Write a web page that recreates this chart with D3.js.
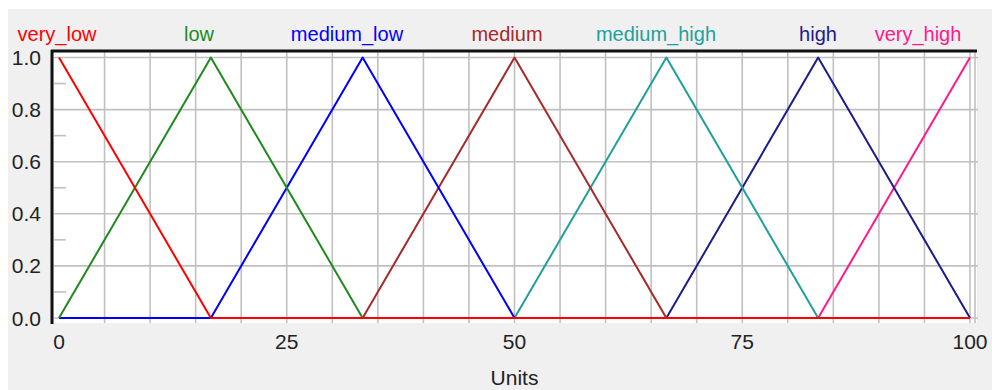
<!DOCTYPE html>
<html lang="en">
<head>
    <meta charset="UTF-8">
    <title>Units</title>
    <script src="https://d3js.org/d3.v7.min.js"></script>
    <style>
        body {
            margin: 0;
            background: #ffffff;
            font-family: "Liberation Sans", Arial, sans-serif;
        }
        svg { display: block; }
        .grid line { stroke: #c0c0c0; stroke-width: 1.6; }
        .lbl { fill: #222; font-size: 21px; }
    </style>
</head>
<body>
    <svg width="992" height="390"></svg>
    <script>
        // term names, drawn as labels on top
        const terms = ["very_low", "low", "medium_low", "medium", "medium_high", "high", "very_high"];
        const colors = ["#ff0000", "#1f8a1f", "#0000ff", "#a52a2a", "#1fa09c", "#1c1c8c", "#ff1a8c"];

        // membership function points [x, mu] per term
        const veryLow    = [[0, 1], [16.67, 0], [100, 0]];
        const low        = [[0, 0], [16.67, 1], [33.33, 0], [100, 0]];
        const mediumLow  = [[0, 0], [16.67, 0], [33.33, 1], [50, 0], [100, 0]];
        const medium     = [[0, 0], [33.33, 0], [50, 1], [66.67, 0], [100, 0]];
        const mediumHigh = [[0, 0], [50, 0], [66.67, 1], [83.33, 0], [100, 0]];
        const high       = [[0, 0], [66.67, 0], [83.33, 1], [100, 0]];
        const veryHigh   = [[0, 0], [83.33, 0], [100, 1]];

        const series = [veryLow, low, mediumLow, medium, mediumHigh, high, veryHigh];

        const xTickLabels = [0, 25, 50, 75, 100];
        const yTickLabels = [0.0, 0.2, 0.4, 0.6, 0.8, 1.0];

        // label centres over the plot (layout only)
        const labelCenters = [57, 199, 347, 507, 656, 818, 918];

        const svg = d3.select("svg");

        // grey window panel
        svg.append("rect")
            .attr("x", 8).attr("y", 9)
            .attr("width", 984).attr("height", 381)
            .attr("fill", "#f0f0f0");

        const x = d3.scaleLinear().domain([0, 100]).range([59, 970]);
        const y = d3.scaleLinear().domain([0, 1]).range([318, 57.5]);

        const plotL = 54, plotR = 977, plotT = 52, plotB = 323;

        svg.append("rect")
            .attr("x", plotL).attr("y", plotT)
            .attr("width", plotR - plotL).attr("height", plotB - plotT)
            .attr("fill", "#ffffff");

        const grid = svg.append("g").attr("class", "grid");

        // vertical grid every 5 units
        grid.selectAll(".v")
            .data(d3.range(5, 101, 5))
            .enter().append("line")
            .attr("x1", d => x(d)).attr("x2", d => x(d))
            .attr("y1", plotT).attr("y2", plotB);

        // extra line at the right edge
        grid.append("line")
            .attr("x1", 975).attr("x2", 975)
            .attr("y1", plotT).attr("y2", plotB);

        // horizontal grid every 0.2
        grid.selectAll(".h")
            .data(d3.range(0, 1.01, 0.2))
            .enter().append("line")
            .attr("x1", plotL).attr("x2", plotR + 1)
            .attr("y1", d => y(d)).attr("y2", d => y(d));

        // minor ticks at 0.1 steps
        grid.selectAll(".m")
            .data(d3.range(0.1, 1, 0.2))
            .enter().append("line")
            .attr("x1", plotL).attr("x2", 66)
            .attr("y1", d => y(d)).attr("y2", d => y(d));

        // frame: thick black top and left
        svg.append("line")
            .attr("x1", 51).attr("x2", plotR)
            .attr("y1", 51).attr("y2", 51)
            .attr("stroke", "#111").attr("stroke-width", 3);
        svg.append("line")
            .attr("x1", 52).attr("x2", 52)
            .attr("y1", 50).attr("y2", 324)
            .attr("stroke", "#111").attr("stroke-width", 3);

        // membership lines, drawn in reverse so very_low ends on top
        const line = d3.line()
            .x(d => x(d[0]))
            .y(d => y(d[1]));

        const order = d3.range(series.length).reverse();
        svg.append("g")
            .selectAll("path")
            .data(order)
            .enter().append("path")
            .attr("d", i => line(series[i]))
            .attr("fill", "none")
            .attr("stroke", i => colors[i])
            .attr("stroke-width", 2)
            .attr("stroke-linejoin", "round");

        // y axis labels
        svg.selectAll(".ylab")
            .data(yTickLabels)
            .enter().append("text")
            .attr("class", "lbl")
            .attr("x", 41)
            .attr("y", d => y(d))
            .attr("dy", "0.36em")
            .attr("text-anchor", "end")
            .text(d => d.toFixed(1));

        // x axis labels
        svg.selectAll(".xlab")
            .data(xTickLabels)
            .enter().append("text")
            .attr("class", "lbl")
            .attr("x", d => x(d))
            .attr("y", 349)
            .attr("text-anchor", "middle")
            .text(d => d);

        svg.append("text")
            .attr("class", "lbl")
            .attr("x", x(50))
            .attr("y", 385)
            .attr("text-anchor", "middle")
            .text("Units");

        // term names
        svg.selectAll(".term")
            .data(terms)
            .enter().append("text")
            .attr("x", (d, i) => labelCenters[i])
            .attr("y", 41)
            .attr("text-anchor", "middle")
            .attr("font-size", "20px")
            .attr("fill", (d, i) => colors[i])
            .text(d => d);
    </script>
</body>
</html>
